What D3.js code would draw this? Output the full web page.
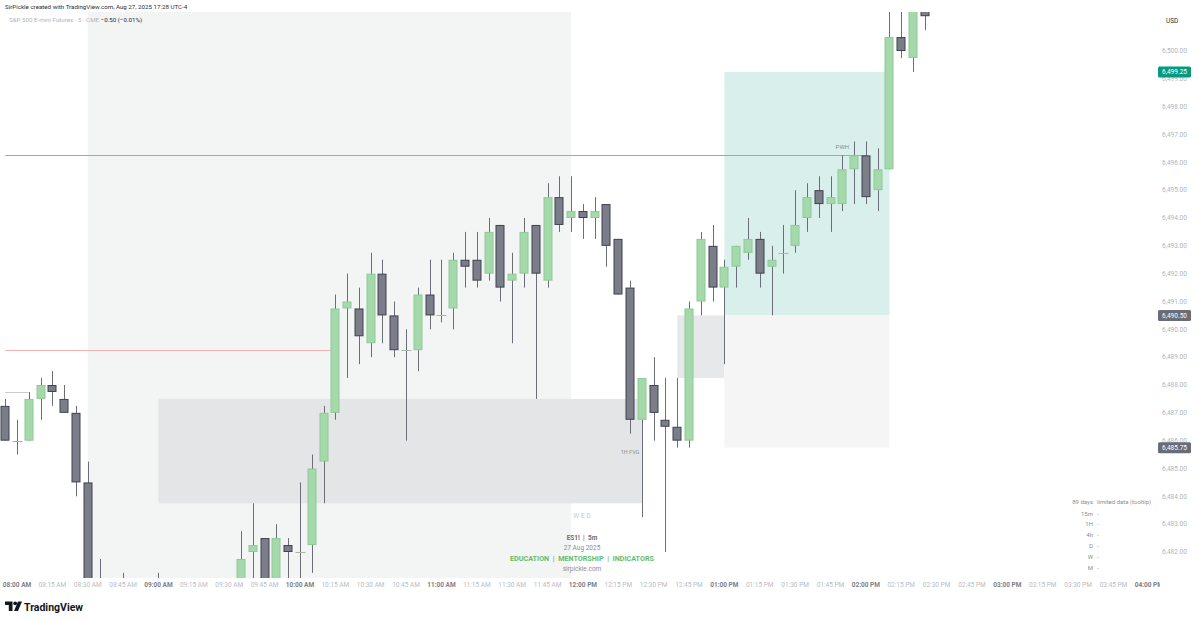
<!DOCTYPE html>
<html><head><meta charset="utf-8">
<script src="https://cdn.jsdelivr.net/npm/d3@7"></script>
<style>body{margin:0;background:#fff}svg{display:block;font-family:Roboto,"Noto Sans",sans-serif}</style>
</head><body><svg id="c" width="1199" height="621"></svg>
<script>
// ---- DATA (ES1! 5m, 27 Aug 2025) ----
const startTime = "07:55";          // first candle
const intervalMin = 5;
const opens  = [6487.25,6486.0,6486.0,6487.5,6488.0,6487.5,6487.0,6484.5,6480.0,6480.25,6479.5,6480.25,6480.0,6479.75,6480.5,6480.0,6479.5,6480.0,6480.5,6480.25,
  6480.5,6482.0,6482.5,6480.75,6482.25,6482.0,6482.25,6485.25,6487.0,6490.75,6490.75,6489.5,6492.0,6490.5,6489.25,6489.25,6491.25,6490.5,6490.75,6492.5,
  6492.5,6492.0,6493.75,6491.75,6492.0,6493.75,6491.75,6494.75,6494.0,6494.25,6494.0,6494.5,6493.25,6491.5,6486.75,6488.0,6486.75,6486.5,6486.0,6491.0,
  6493.0,6491.5,6492.25,6492.75,6493.25,6492.25,6492.75,6493.0,6494.0,6495.0,6494.5,6494.5,6495.75,6496.25,6495.0,6495.75,6500.5,6499.75,6501.75];
const highs  = [6487.5,6486.75,6487.75,6488.25,6488.5,6488.0,6487.25,6485.25,6481.75,6480.75,6481.25,6480.75,6480.5,6481.25,6480.75,6480.5,6480.25,6480.75,6480.75,6480.75,
  6482.75,6483.75,6482.5,6483.0,6482.5,6484.5,6485.5,6487.25,6491.25,6492.0,6491.5,6492.75,6492.5,6491.0,6490.0,6491.5,6492.5,6492.5,6492.75,6493.5,
  6493.5,6494.0,6493.75,6492.75,6494.0,6493.75,6495.25,6495.5,6495.5,6494.5,6494.75,6494.5,6493.25,6491.75,6488.25,6489.0,6488.25,6488.25,6491.0,6493.5,
  6493.75,6492.5,6493.0,6494.0,6493.5,6493.0,6493.75,6495.0,6495.25,6495.5,6495.5,6496.25,6496.75,6496.75,6496.5,6501.75,6501.75,6502.25,6502.0];
const lows   = [6486.0,6485.5,6486.0,6486.75,6487.25,6487.0,6484.0,6479.5,6479.5,6479.25,6479.0,6479.5,6479.25,6479.5,6479.75,6479.25,6479.0,6479.5,6479.75,6479.75,
  6480.25,6480.75,6480.25,6480.5,6480.75,6480.75,6481.25,6483.75,6486.75,6488.25,6488.75,6489.0,6489.5,6489.0,6486.0,6488.5,6490.0,6490.25,6490.0,6491.5,
  6491.5,6491.75,6491.0,6489.5,6491.5,6487.5,6491.5,6493.5,6493.5,6493.25,6493.25,6492.25,6491.25,6486.25,6483.25,6486.0,6482.0,6485.75,6485.75,6490.5,
  6491.0,6488.75,6491.5,6492.5,6491.5,6490.5,6492.0,6492.75,6493.5,6494.0,6493.5,6494.25,6494.5,6494.5,6494.25,6495.75,6499.75,6499.25,6500.75];
const closes = [6486.0,6486.0,6487.5,6488.0,6487.75,6487.0,6484.5,6480.0,6480.25,6479.5,6480.25,6480.0,6479.75,6480.5,6480.0,6479.5,6480.0,6480.5,6480.25,6480.5,
  6481.75,6482.25,6480.75,6482.5,6482.0,6482.0,6485.0,6487.0,6490.75,6491.0,6489.75,6492.0,6490.5,6489.25,6489.25,6491.25,6490.5,6490.5,6492.5,6492.25,
  6491.75,6493.5,6491.5,6492.0,6493.5,6492.0,6494.75,6493.75,6494.25,6494.0,6494.25,6493.0,6491.25,6486.75,6488.25,6487.0,6486.5,6486.0,6490.75,6493.25,
  6491.5,6492.25,6493.0,6493.25,6492.0,6492.5,6492.75,6493.75,6494.75,6494.5,6494.75,6495.75,6496.25,6494.75,6495.75,6500.5,6500.0,6501.75,6501.25];

const priceTicks = [6482,6483,6484,6485,6486,6487,6488,6489,6490,6491,6492,6493,6494,6495,6496,6497,6498,6499,6500];
const timeTicks = ["08:00","08:15","08:30","08:45","09:00","09:15","09:30","09:45","10:00","10:15","10:30","10:45","11:00","11:15","11:30","11:45",
  "12:00","12:15","12:30","12:45","13:00","13:15","13:30","13:45","14:00","14:15","14:30","14:45","15:00","15:15","15:30","15:45","16:00"];
// zones: [startTime, endTime, topPrice, bottomPrice]
const sessionZone = ["08:30","11:55"];
const grayFVG  = ["09:00","12:25",6487.5,6483.75];
const smallFVG = ["12:40","13:00",6490.5,6488.25];
const tealZone = ["13:00","14:10",6499.25,6490.5];
const lightZone= ["13:00","14:10",6490.5,6485.75];
const redLevel = [6489.25,"07:55","10:15"];
const pwhLevel = [6496.25,"07:55","14:00"];
const shortLevel=[6487.75,"07:55","08:05"];
const priceLabels = [[6499.25,"#089981"],[6490.5,"#6a6d78"],[6485.75,"#6a6d78"]];
const tfRows = ["15m","1H","4h","D","W","M"];

// ---- SCALES ----
const toMin = s => { const [h,m]=s.split(":").map(Number); return h*60+m; };
const t0 = toMin(startTime);
const x = d3.scaleLinear().domain([t0, toMin("16:00")]).range([5.2, 5.2 + 11.79*97]);
const y = d3.scaleLinear().domain([6482, 6500]).range([552, 51]);
const svg = d3.select("#c");
const plotTop = 12, plotBottom = 578, plotRight = 1155;

svg.append("defs").append("clipPath").attr("id","plot").append("rect")
  .attr("x",0).attr("y",plotTop).attr("width",plotRight).attr("height",plotBottom-plotTop);
svg.select("defs").append("clipPath").attr("id","taxis").append("rect")
  .attr("x",0).attr("y",plotBottom).attr("width",1160).attr("height",20);

const g = svg.append("g").attr("clip-path","url(#plot)");
// session background
g.append("rect").attr("x",x(toMin(sessionZone[0]))).attr("y",plotTop)
  .attr("width",x(toMin(sessionZone[1]))-x(toMin(sessionZone[0]))).attr("height",plotBottom-plotTop).attr("fill","#f3f4f4");
function zone(z, fill){
  g.append("rect").attr("x",x(toMin(z[0]))).attr("y",y(z[2]))
   .attr("width",x(toMin(z[1]))-x(toMin(z[0]))).attr("height",y(z[3])-y(z[2])).attr("fill",fill);
}
zone(grayFVG,"#e4e5e7");
zone(smallFVG,"#e7e8e9");
zone(tealZone,"#d9efec");
zone(lightZone,"#f5f5f5");
function level(l, color){
  g.append("line").attr("x1",x(toMin(l[1]))).attr("x2",x(toMin(l[2])))
   .attr("y1",Math.round(y(l[0]))+0.5).attr("y2",Math.round(y(l[0]))+0.5).attr("stroke",color).attr("stroke-width",1);
}
level(redLevel,"#f3b3b3");
level(pwhLevel,"#a3a6ad");
level(shortLevel,"#c9cbcf");

// candles
const idx = d3.range(opens.length);
const cx = i => Math.round(x(t0 + i*intervalMin));
const bw = 9;
const cg = g.append("g");
cg.selectAll("line.w").data(idx).join("line")
  .attr("x1",i=>cx(i)+0.5).attr("x2",i=>cx(i)+0.5)
  .attr("y1",i=>y(highs[i])).attr("y2",i=>y(lows[i]))
  .attr("stroke","#6b6e78").attr("stroke-width",1);
cg.selectAll("rect.b").data(idx.filter(i=>opens[i]!==closes[i])).join("rect")
  .attr("x",i=>cx(i)-bw/2+0.5).attr("width",bw-1)
  .attr("y",i=>y(Math.max(opens[i],closes[i]))+0.5)
  .attr("height",i=>Math.max(1,Math.abs(y(opens[i])-y(closes[i]))-1))
  .attr("fill",i=>closes[i]>opens[i]?"#a5d8ab":"#7b7d88")
  .attr("stroke",i=>closes[i]>opens[i]?"#8ccb94":"#3f4250").attr("stroke-width",1);
cg.selectAll("line.d").data(idx.filter(i=>opens[i]===closes[i])).join("line")
  .attr("x1",i=>cx(i)-bw/2).attr("x2",i=>cx(i)+bw/2+1)
  .attr("y1",i=>Math.round(y(opens[i]))+0.5).attr("y2",i=>Math.round(y(opens[i]))+0.5)
  .attr("stroke","#a9b4ab").attr("stroke-width",1);

// annotations
g.append("text").attr("x",x(toMin("13:50"))).attr("y",y(pwhLevel[0])-6).attr("text-anchor","middle")
  .attr("font-size",6).attr("fill","#8a8d96").text("PWH");
g.append("text").attr("x",x(toMin("12:20"))).attr("y",y(6485.75)+6).attr("text-anchor","middle")
  .attr("font-size",5.5).attr("fill","#8a8d96").text("1H FVG");
g.append("text").attr("x",583).attr("y",518).attr("text-anchor","middle").attr("font-size",6.5)
  .attr("letter-spacing","2px").attr("fill","#c7c9cc").text("WED");
const wm = [["ES1!  |  5m",540,"#6b6e78","bold",6.5],["27 Aug 2025",550,"#8a8d96","normal",6.5],
  ["EDUCATION  |  MENTORSHIP  |  INDICATORS",561,"#66bb6a","bold",7.2],["sirpickle.com",571,"#8a8d96","normal",6.5]];
wm.forEach(w=>g.append("text").attr("x",582).attr("y",w[1]).attr("text-anchor","middle")
  .attr("font-size",w[4]).attr("font-weight",w[3]).attr("fill",w[2]).attr("xml:space","preserve").style("white-space","pre").text(w[0]));

// price axis
const pa = svg.append("g");
pa.selectAll("text").data(priceTicks).join("text")
  .attr("x",1162).attr("y",d=>y(d)+2.3).attr("font-size",6.5).attr("fill","#b2b5be")
  .text(d=>d3.format(",.2f")(d));
pa.append("text").attr("x",1166).attr("y",23).attr("font-size",6.5).attr("fill","#333").text("USD");
priceLabels.forEach(([p,c])=>{
  pa.append("rect").attr("x",1158).attr("y",y(p)-5.5).attr("width",33).attr("height",11).attr("rx",1.5).attr("fill",c);
  pa.append("text").attr("x",1174.5).attr("y",y(p)+2.3).attr("text-anchor","middle").attr("font-size",6.5)
    .attr("fill","#fff").text(d3.format(",.2f")(p));
});

// time axis
const fmtT = s => { let [h,m]=s.split(":").map(Number); const ap=h>=12?"PM":"AM"; h=h%12||12;
  return String(h).padStart(2,"0")+":"+String(m).padStart(2,"0")+" "+ap; };
svg.append("g").attr("clip-path","url(#taxis)").selectAll("text").data(timeTicks).join("text")
  .attr("x",d=>x(toMin(d))).attr("y",587).attr("text-anchor","middle").attr("font-size",6.5)
  .attr("font-weight",d=>d.endsWith(":00")?"bold":"normal")
  .attr("fill",d=>d.endsWith(":00")?"#7d808a":"#b9bcc4").text(fmtT);

// header
svg.append("text").attr("x",5).attr("y",9).attr("font-size",6.2).attr("fill","#2a2e39")
  .text("SirPickle created with TradingView.com, Aug 27, 2025 17:28 UTC-4");
const h2 = svg.append("text").attr("x",9).attr("y",22).attr("font-size",6.2);
h2.append("tspan").attr("fill","#b2b5be").text("S&P 500 E-mini Futures · 5 · CME ");
h2.append("tspan").attr("fill","#2a2e39").text(" \u22120.50 (\u22120.01%)");

// right-bottom table
const tb = svg.append("g").attr("font-size",6).attr("fill","#8a8d96");
tb.append("text").attr("x",1093).attr("y",504).attr("text-anchor","end").text("89 days");
tb.append("text").attr("x",1097).attr("y",504).text("limited data (tooltip)");
tfRows.forEach((r,k)=>{
  tb.append("text").attr("x",1093).attr("y",515.5+k*10.8).attr("text-anchor","end").text(r);
  tb.append("text").attr("x",1097).attr("y",515.5+k*10.8).text("-");
});

// TradingView logo
const lg = svg.append("g").attr("fill","#131722");
lg.append("path").attr("d","M5 601.5 H12.5 V611 H8.8 V605 H5 Z");
lg.append("circle").attr("cx",15.2).attr("cy",603.3).attr("r",1.9);
lg.append("path").attr("d","M18 601.5 H22 L18 611 H14 Z");
svg.append("text").attr("x",24).attr("y",610.5).attr("font-size",10.5).attr("font-weight","bold")
  .attr("fill","#131722").text("TradingView");
</script></body></html>
